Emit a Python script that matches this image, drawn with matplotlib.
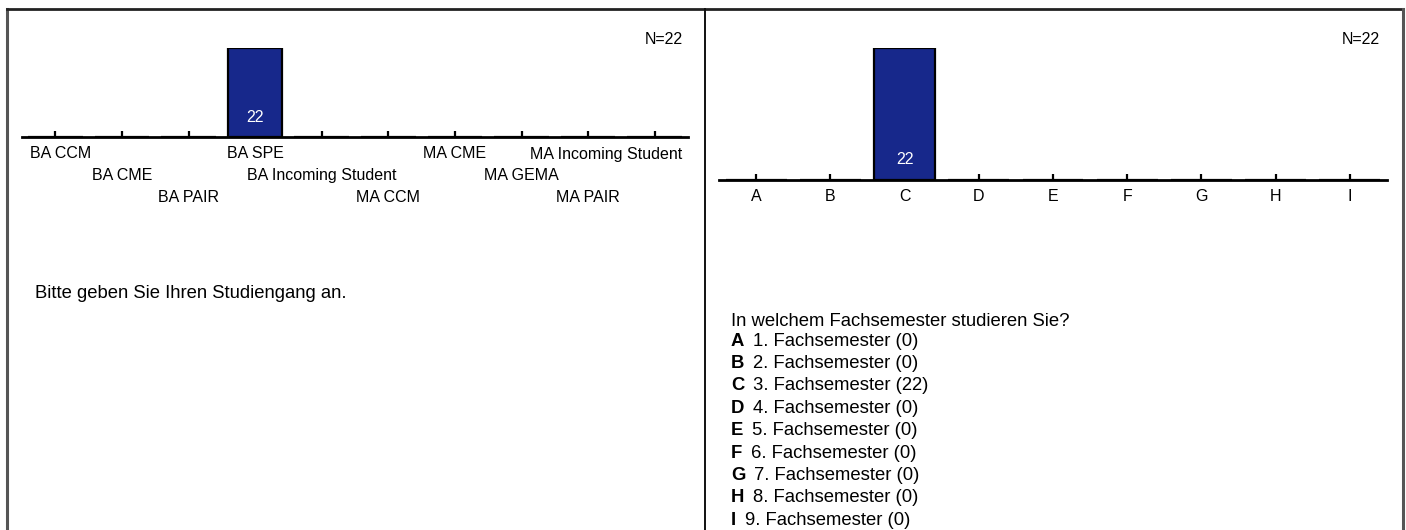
import matplotlib
matplotlib.use("Agg")
import matplotlib.pyplot as plt
from matplotlib.lines import Line2D

plt.rcParams["font.family"] = ["Liberation Sans", "DejaVu Sans"]

# --- Daten ---
studiengang = ["BA CCM", "BA CME", "BA PAIR", "BA SPE", "BA Incoming Student",
               "MA CCM", "MA CME", "MA GEMA", "MA PAIR", "MA Incoming Student"]
studiengang_counts = [0, 0, 0, 22, 0, 0, 0, 0, 0, 0]

semester_codes = ["A", "B", "C", "D", "E", "F", "G", "H", "I"]
semester_labels = ["1. Fachsemester", "2. Fachsemester", "3. Fachsemester",
                   "4. Fachsemester", "5. Fachsemester", "6. Fachsemester",
                   "7. Fachsemester", "8. Fachsemester", "9. Fachsemester"]
semester_counts = [0, 0, 22, 0, 0, 0, 0, 0, 0]

n_total = 22
frage_links = "Bitte geben Sie Ihren Studiengang an."
frage_rechts = "In welchem Fachsemester studieren Sie?"

W, H = 1406, 530
BAR_COLOR = "#17288b"
FS = 11.5       # Achsenbeschriftung
FS_TEXT = 13.3  # Fragetext und Legende


def fx(x):
    return x / W


def fy(y):
    return 1 - y / H


def px2pt(v):
    return v * 72 / 100


def bar_panel(fig, left, right, base, top, counts):
    ax = fig.add_axes([fx(left), fy(base), fx(right - left), (base - top) / H])
    xs = list(range(len(counts)))
    bars = ax.bar(xs, counts, width=0.82, color=BAR_COLOR, edgecolor="black",
                  linewidth=1.6, zorder=2)
    for b, c in zip(bars, counts):
        if c > 0:
            ax.annotate(str(c), xy=(b.get_x() + b.get_width() / 2, 0),
                        xytext=(0, px2pt(20)), textcoords="offset points",
                        ha="center", va="center", color="white", fontsize=FS)
    ax.set_xlim(-0.5, len(counts) - 0.5)
    ax.set_ylim(0, max(counts))
    for s in ["top", "left", "right"]:
        ax.spines[s].set_visible(False)
    ax.spines["bottom"].set_linewidth(2.0)
    ax.spines["bottom"].set_zorder(3)
    ax.set_yticks([])
    ax.set_xticks(xs)
    ax.tick_params(axis="x", direction="in", length=px2pt(6), width=1.6,
                   labelsize=FS, pad=px2pt(9))
    ax.patch.set_visible(False)
    return ax


fig = plt.figure(figsize=(W / 100, H / 100), dpi=100)

# Linkes Diagramm: Studiengang
ax1 = bar_panel(fig, 22, 688, 137, 48, studiengang_counts)
ax1.set_xticklabels([])
label_artists = []
for i, name in enumerate(studiengang):
    row = i % 3
    t = ax1.annotate(name, xy=(i, 0), xytext=(0, -px2pt(17 + 21.5 * row)),
                     textcoords="offset points", ha="center", va="center",
                     fontsize=FS)
    label_artists.append(t)

# Beschriftungen innerhalb des Panels halten
fig.canvas.draw()
renderer = fig.canvas.get_renderer()
for t in label_artists:
    bb = t.get_window_extent(renderer)
    dx = 0
    if bb.x0 < 30:
        dx = 30 - bb.x0
    elif bb.x1 > 682:
        dx = 682 - bb.x1
    if dx:
        ox, oy = t.xyann
        t.xyann = (ox + px2pt(dx), oy)

fig.text(fx(683), fy(40), f"N={n_total}", ha="right", va="center", fontsize=FS)
fig.text(fx(35), fy(293), frage_links, ha="left", va="center", fontsize=FS_TEXT)

# Rechtes Diagramm: Fachsemester
ax2 = bar_panel(fig, 719, 1387, 180, 48, semester_counts)
ax2.set_xticklabels(semester_codes)
fig.text(fx(1380), fy(40), f"N={n_total}", ha="right", va="center", fontsize=FS)
fig.text(fx(731), fy(321), frage_rechts, ha="left", va="center", fontsize=FS_TEXT)

# Legende der Antwortkategorien
for k, (code, lab, c) in enumerate(zip(semester_codes, semester_labels, semester_counts)):
    y = 341 + 22.4 * k
    t = fig.text(fx(731), fy(y), code, ha="left", va="center",
                 fontsize=FS_TEXT, fontweight="bold")
    fig.add_artist(plt.Annotation(f"{lab} ({c})", xy=(1, 0.5), xycoords=t,
                                  xytext=(px2pt(9), 0), textcoords="offset points",
                                  ha="left", va="center", fontsize=FS_TEXT,
                                  annotation_clip=False))

# Rahmen der beiden Felder
frame = [
    ((6.5, 6.5), (8.5, 530), "#555555", 2.2),
    ((6.5, 1403), (8.5, 8.5), "#222222", 2.0),
    ((704.5, 704.5), (8.5, 530), "#111111", 1.4),
    ((1402.5, 1402.5), (8.5, 530), "#555555", 2.2),
]
for xs_, ys_, col, lw in frame:
    fig.add_artist(Line2D([fx(v) for v in xs_], [fy(v) for v in ys_],
                          transform=fig.transFigure, color=col, linewidth=lw))

fig.savefig("out.png", dpi=100)
